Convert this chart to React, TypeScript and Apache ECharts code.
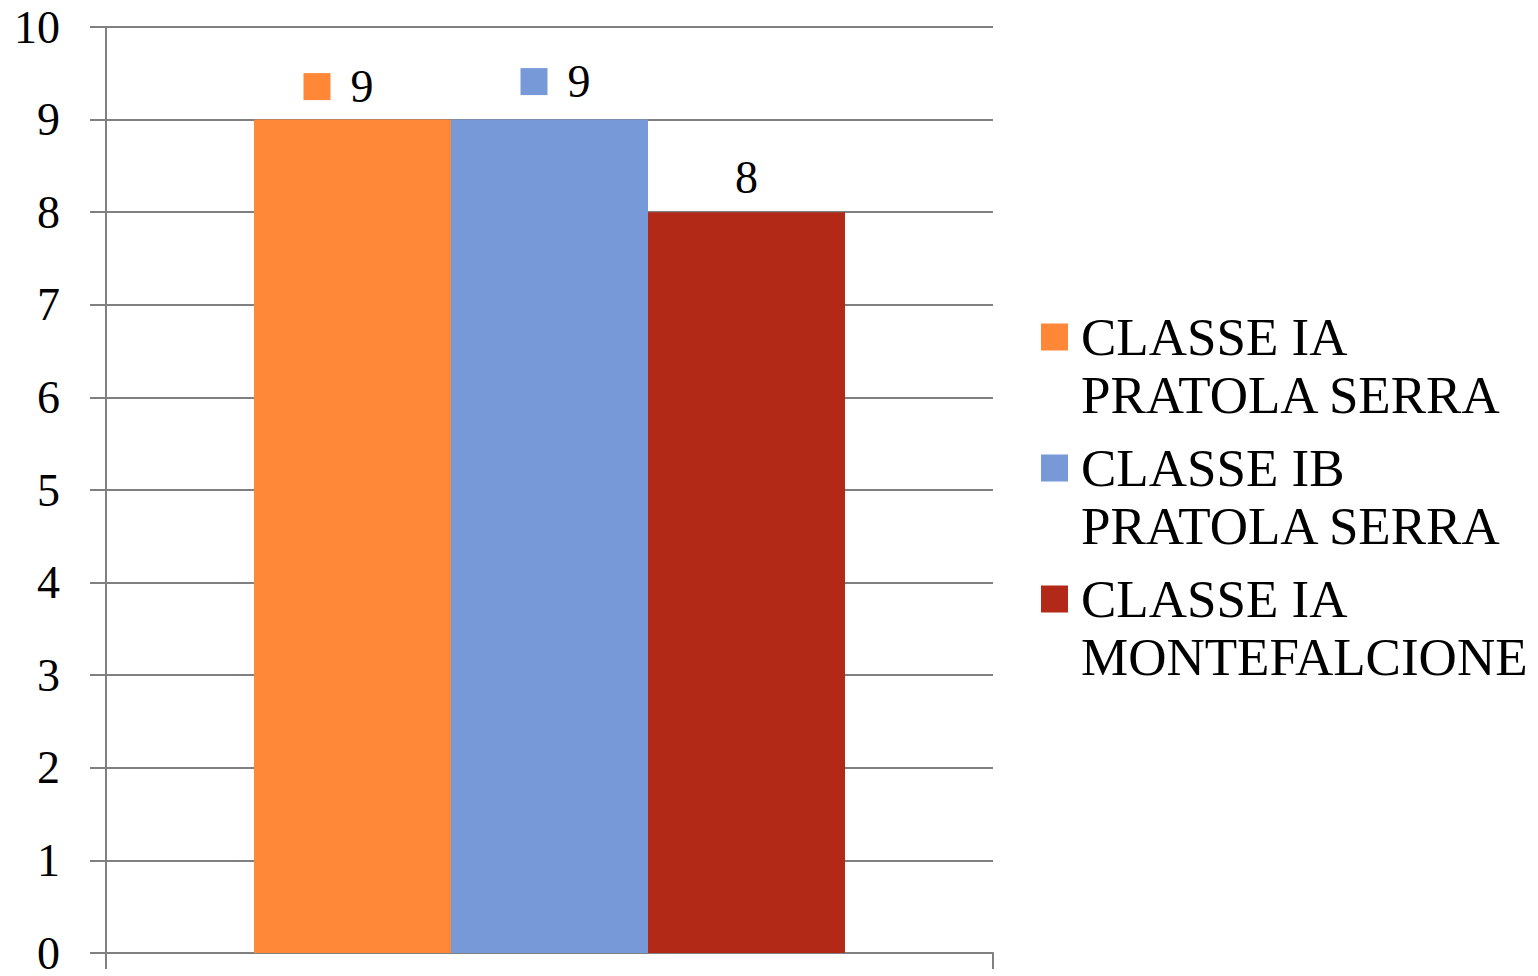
import React, { useEffect, useRef } from "react";
import * as echarts from "echarts";

const categories = [""];
const seriesNames = [
  "CLASSE IA\nPRATOLA SERRA",
  "CLASSE IB\nPRATOLA SERRA",
  "CLASSE IA\nMONTEFALCIONE",
];
const seriesValues = [9, 9, 8];
const seriesColors = ["#FF8838", "#7799D8", "#B22A17"];
const labelHasKey = [true, true, false];
const labelOffsets = [
  [-14, -5],
  [6, -10],
  [0, -7],
];

const FONT = "Liberation Serif";
const GRAY = "#808080";

export default function App() {
  const ref = useRef<HTMLDivElement>(null);
  useEffect(() => {
    if (!ref.current) return;
    const chart = echarts.init(ref.current, null, { renderer: "svg" });
    const series = seriesNames.map((name, i) => ({
      name,
      type: "bar",
      data: [seriesValues[i]],
      barWidth: 197,
      barGap: "0%",
      itemStyle: { color: seriesColors[i] },
      label: {
        show: true,
        position: "top",
        offset: labelOffsets[i],
        formatter: labelHasKey[i] ? "{sq|}{g|}{v|{c}}" : "{v|{c}}",
        rich: {
          sq: { width: 27, height: 27, backgroundColor: seriesColors[i] },
          g: { width: 20 },
          v: { fontSize: 46, fontFamily: FONT, color: "#000" },
        },
      },
    }));
    chart.setOption({
      animation: false,
      textStyle: { fontFamily: FONT },
      grid: { left: 106, top: 27, width: 887, height: 932, containLabel: false },
      legend: {
        orient: "vertical",
        left: 1041,
        top: 308,
        padding: 0,
        itemGap: 15,
        itemWidth: 27,
        itemHeight: 85,
        icon: "path://M0,0H27V27H0Z M0,85H27V85Z",
        textStyle: {
          fontFamily: FONT,
          fontSize: 53,
          lineHeight: 58,
          color: "#000",
          padding: [0, 0, 0, 8],
        },
        data: seriesNames,
      },
      xAxis: {
        type: "category",
        data: categories,
        boundaryGap: true,
        axisLine: { show: true, lineStyle: { color: GRAY, width: 2 } },
        axisTick: { show: true, length: 16, lineStyle: { color: GRAY, width: 2 } },
        axisLabel: { show: false },
      },
      yAxis: {
        type: "value",
        min: 0,
        max: 10,
        interval: 1,
        axisLine: { show: true, lineStyle: { color: GRAY, width: 2 } },
        axisTick: { show: true, length: 16, lineStyle: { color: GRAY, width: 2 } },
        splitLine: { show: true, lineStyle: { color: GRAY, width: 2 } },
        axisLabel: { fontSize: 46, fontFamily: FONT, color: "#000", margin: 46 },
      },
      series,
    });
    return () => chart.dispose();
  }, []);
  return (
    <div
      ref={ref}
      style={{ position: "absolute", left: 0, top: 0, width: 1538, height: 976 }}
    />
  );
}
